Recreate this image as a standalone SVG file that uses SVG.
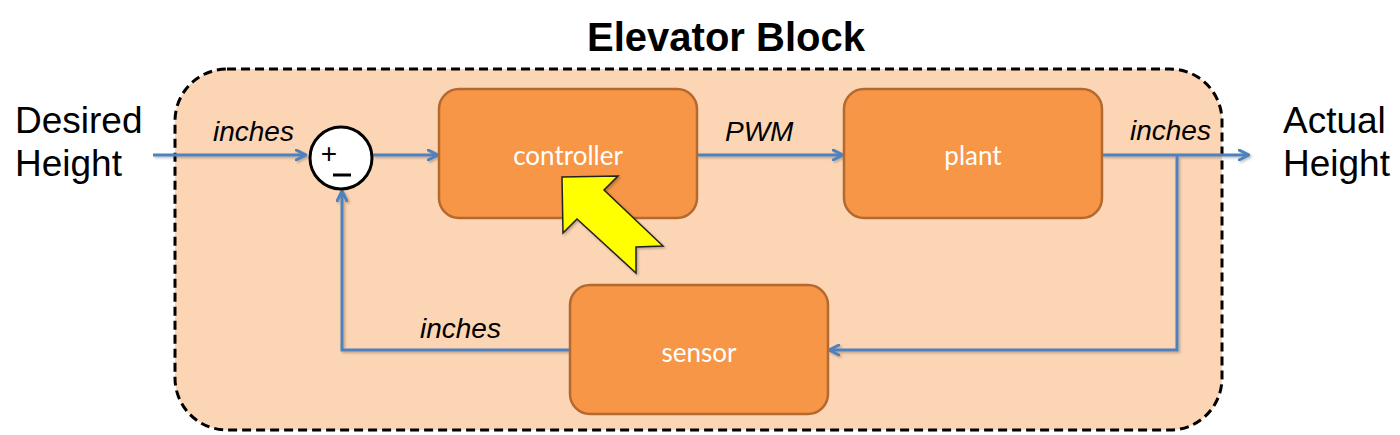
<svg xmlns="http://www.w3.org/2000/svg" width="1400" height="435" viewBox="0 0 1400 435">
<defs>
<marker id="ah" viewBox="0 0 12 12" refX="11" refY="6" markerWidth="12" markerHeight="12" markerUnits="userSpaceOnUse" orient="auto">
<path d="M1,1 L11,6 L1,11" fill="none" stroke="#4F81BD" stroke-width="3" stroke-linecap="round" stroke-linejoin="round"/>
</marker>
<filter id="sh" x="-5%" y="-5%" width="110%" height="110%">
<feDropShadow dx="1.5" dy="1.5" stdDeviation="1" flood-color="#000" flood-opacity="0.25"/>
</filter>
</defs>
<style>
.blk{fill:#F79646;stroke:#B3692F;stroke-width:2.5}
.lbl{font-family:Lato,"Open Sans",sans-serif;font-size:26px;fill:#FFFFFF;text-anchor:middle}
.ln{fill:none;stroke:#4F81BD;stroke-width:3}
.it{font-family:"Liberation Sans",Arial,sans-serif;font-style:italic;font-size:28px;fill:#000}
.big{font-family:"Liberation Sans",Arial,sans-serif;font-size:37px;fill:#000}
</style>
<rect width="1400" height="435" fill="#FFFFFF"/>
<g id="elevator-block">
<rect x="175" y="69" width="1047" height="361" rx="52" ry="52" fill="#FCD5B5" stroke="#000" stroke-width="3" stroke-dasharray="9,5"/>
<text x="726" y="51" font-family="Liberation Sans,Arial,sans-serif" font-size="40" font-weight="bold" text-anchor="middle">Elevator Block</text>
</g>
<g id="connectors" filter="url(#sh)">
<path class="ln" d="M153,155 L306,155" marker-end="url(#ah)"/>
<path class="ln" d="M373,155 L438,155" marker-end="url(#ah)"/>
<path class="ln" d="M697,155 L843,155" marker-end="url(#ah)"/>
<path class="ln" d="M1102,155 L1249,155" marker-end="url(#ah)"/>
<path class="ln" d="M1177,155 L1177,350 L829,350" marker-end="url(#ah)"/>
<path class="ln" d="M570,350 L342,350 L342,191" marker-end="url(#ah)"/>
</g>
<g id="labels">
<text class="it" x="213" y="141">inches</text>
<text class="it" x="725" y="141">PWM</text>
<text class="it" x="1130" y="140">inches</text>
<text class="it" x="420" y="338">inches</text>
</g>
<g id="desired-height">
<text class="big" x="15" y="133">Desired</text>
<text class="big" x="15" y="176">Height</text>
</g>
<g id="actual-height">
<text class="big" x="1283" y="133">Actual</text>
<text class="big" x="1283" y="176">Height</text>
</g>
<g id="summing-junction">
<circle cx="341" cy="158" r="31" fill="#FFFFFF" stroke="#000" stroke-width="3"/>
<text x="329" y="163" font-family="Liberation Sans,Arial,sans-serif" font-size="28" text-anchor="middle">+</text>
<line x1="333" y1="175" x2="351" y2="175" stroke="#000" stroke-width="3"/>
</g>
<g id="controller">
<rect class="blk" x="439" y="89" width="258" height="129" rx="20" ry="20"/>
<text class="lbl" x="568" y="165">controller</text>
</g>
<g id="plant">
<rect class="blk" x="844" y="89" width="258" height="129" rx="20" ry="20"/>
<text class="lbl" x="973" y="165">plant</text>
</g>
<g id="sensor">
<rect class="blk" x="570" y="285" width="258" height="129" rx="20" ry="20"/>
<text class="lbl" x="699" y="362">sensor</text>
</g>
<g id="pointer">
<polygon points="562,177 618,176 604,190 663,246 636,247 636,273 577,219 563,233" fill="#FFFF00" stroke="#222" stroke-width="1.5" stroke-linejoin="miter" filter="url(#sh)"/>
</g>
</svg>
